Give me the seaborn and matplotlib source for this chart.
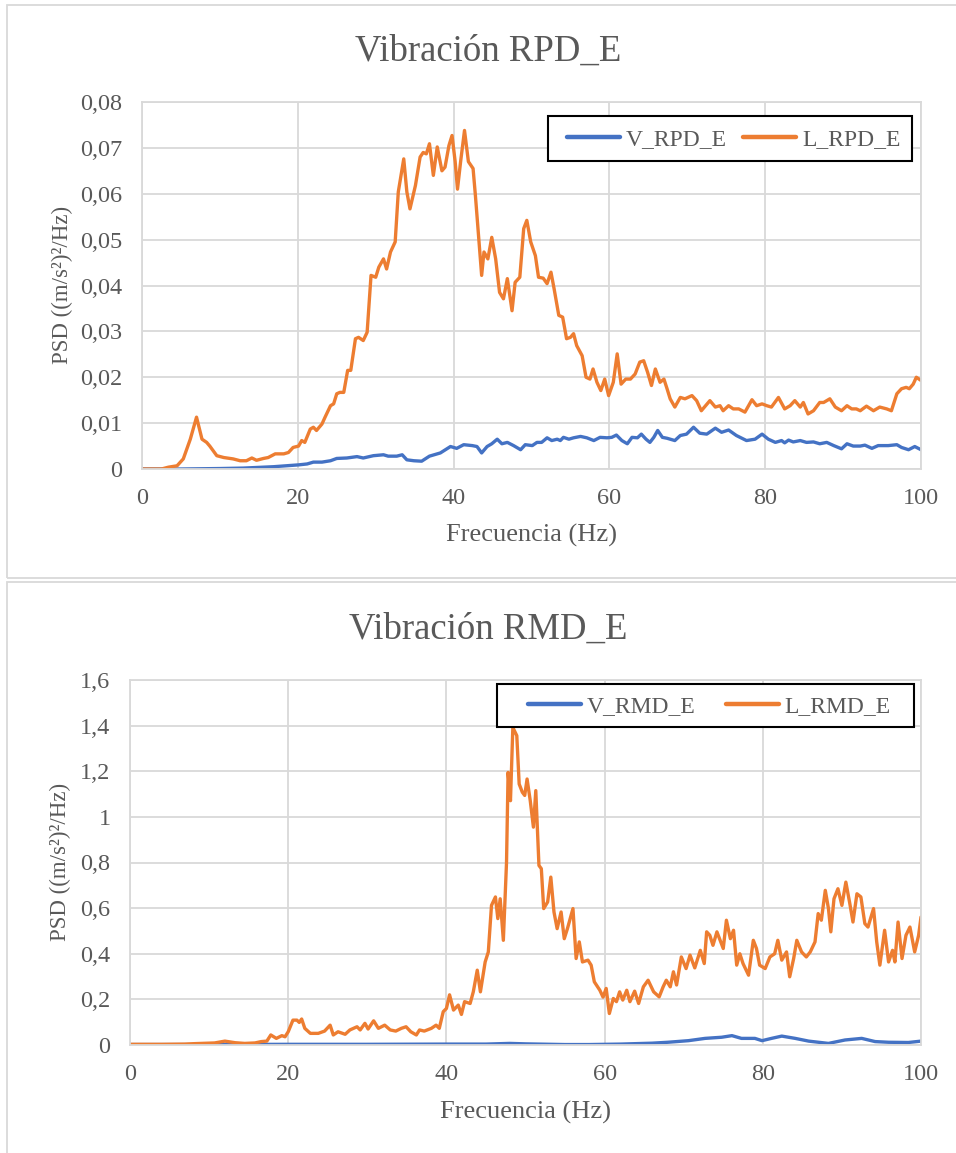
import numpy as np
import pandas as pd
import seaborn as sns
import matplotlib
matplotlib.use("Agg")
import matplotlib.pyplot as plt
from matplotlib.patches import Rectangle
from matplotlib.ticker import FuncFormatter

# ---------------- data ----------------
titles = ["Vibración RPD_E", "Vibración RMD_E"]
xlabel = "Frecuencia (Hz)"
ylabel = "PSD ((m/s\u00b2)\u00b2/Hz)"
x_ticks = [0, 20, 40, 60, 80, 100]
top_yticks = [0, 0.01, 0.02, 0.03, 0.04, 0.05, 0.06, 0.07, 0.08]
bot_yticks = [0, 0.2, 0.4, 0.6, 0.8, 1.0, 1.2, 1.4, 1.6]
top_labels = ["V_RPD_E", "L_RPD_E"]
bot_labels = ["V_RMD_E", "L_RMD_E"]

f_top_L = [0, 2.5, 3.4, 4.5, 5.3, 6.2, 7.0, 7.7, 8.3, 8.7, 9.6, 10.5, 11.7, 12.6, 13.4, 14.1, 14.7,
           15.6, 16.2, 17.1, 18.2, 18.8, 19.4, 20.1, 20.5, 20.9, 21.6, 22.0, 22.4, 23.1, 23.5, 24.2,
           24.6, 25.0, 25.4, 25.9, 26.4, 26.8, 27.4, 27.8, 28.4, 28.9, 29.4, 30.0, 30.4, 31.0, 31.4,
           31.9, 32.5, 32.9, 33.6, 34.0, 34.4, 35.1, 35.7, 36.1, 36.5, 36.9, 37.4, 37.9, 38.5, 38.9,
           39.4, 39.8, 40.2, 40.5, 40.9, 41.4, 41.9, 42.5, 42.8, 43.2, 43.6, 43.9, 44.4, 44.9, 45.4,
           45.9, 46.4, 46.9, 47.5, 47.9, 48.5, 49.0, 49.4, 49.9, 50.5, 50.9, 51.5, 52.0, 52.5, 52.9,
           53.5, 54.0, 54.5, 55.0, 55.4, 55.8, 56.5, 57.0, 57.5, 57.9, 58.4, 58.9, 59.4, 59.9, 60.5,
           61.0, 61.5, 62.1, 62.7, 63.3, 63.9, 64.4, 64.9, 65.4, 65.9, 66.5, 67.0, 67.4, 67.8, 68.4,
           69.1, 69.7, 70.6, 71.2, 71.8, 72.9, 73.6, 74.2, 74.6, 75.3, 75.9, 76.6, 77.4, 78.3, 78.9,
           79.6, 80.2, 80.8, 81.7, 82.5, 83.2, 83.8, 84.5, 84.9, 85.5, 86.2, 87.0, 87.5, 88.3, 89.0,
           89.8, 90.5, 91.1, 91.7, 92.2, 93.0, 93.9, 94.7, 95.6, 96.2, 96.9, 97.5, 98.1, 98.5, 99.0,
           99.4, 100]
v_top_L = [0, 0, 0.0004, 0.0007, 0.0022, 0.0065, 0.0113, 0.0065, 0.0058, 0.005, 0.0029, 0.0025,
           0.0022, 0.0018, 0.0018, 0.0024, 0.0019, 0.0023, 0.0025, 0.0033, 0.0033, 0.0036, 0.0047,
           0.005, 0.0062, 0.0058, 0.0087, 0.0091, 0.0084, 0.0098, 0.0113, 0.0138, 0.0142, 0.0164,
           0.0167, 0.0167, 0.0215, 0.0215, 0.0284, 0.0287, 0.028, 0.0298, 0.0422, 0.0418, 0.044,
           0.0458, 0.0436, 0.0473, 0.0495, 0.0604, 0.0676, 0.0604, 0.0567, 0.0618, 0.068, 0.069,
           0.0687, 0.0709, 0.064, 0.0702, 0.065, 0.0658, 0.0705, 0.0727, 0.067, 0.061, 0.067, 0.0738,
           0.067, 0.0655, 0.0596, 0.0509, 0.0422, 0.0473, 0.0458, 0.0505, 0.0458, 0.0385, 0.0371,
           0.0415, 0.0345, 0.0407, 0.0418, 0.0524, 0.0542, 0.0495, 0.0465, 0.0418, 0.0416, 0.0404,
           0.0429, 0.0393, 0.0335, 0.0331, 0.0284, 0.0287, 0.0295, 0.0269, 0.0247, 0.02, 0.0196,
           0.0218, 0.0189, 0.0171, 0.0196, 0.016, 0.0189, 0.0251, 0.0185, 0.0196, 0.0196, 0.0207,
           0.0233, 0.0236, 0.0211, 0.0182, 0.0218, 0.0189, 0.0196, 0.0175, 0.0153, 0.0135, 0.0156,
           0.0153, 0.016, 0.0149, 0.0127, 0.0149, 0.0135, 0.0138, 0.0127, 0.0138, 0.0131, 0.0131,
           0.0124, 0.0151, 0.0138, 0.0142, 0.0138, 0.0135, 0.0156, 0.0131, 0.0138, 0.0149, 0.0135,
           0.0145, 0.012, 0.0127, 0.0145, 0.0145, 0.0153, 0.0135, 0.0127, 0.0138, 0.0131, 0.0131,
           0.0127, 0.0137, 0.0127, 0.0135, 0.0131, 0.0127, 0.0164, 0.0175, 0.0178, 0.0175, 0.0185,
           0.02, 0.0193]

f_top_V = [0, 5, 10, 13, 16.9, 20.1, 21.2, 22.0, 23.1, 24.2, 25.0, 26.3, 27.6, 28.4, 29.7, 31.0,
           31.6, 32.7, 33.4, 34.0, 34.9, 35.9, 36.9, 38.3, 39.6, 40.4, 41.3, 42.4, 43.0, 43.6, 44.3,
           44.9, 45.6, 46.2, 46.9, 47.7, 48.6, 49.2, 50.1, 50.7, 51.3, 52.0, 52.6, 53.3, 53.7, 54.1,
           54.8, 55.4, 56.3, 57.1, 58.0, 58.8, 59.7, 60.3, 60.9, 61.6, 62.3, 62.9, 63.6, 64.1, 64.7,
           65.2, 65.7, 66.2, 66.8, 67.4, 68.4, 69.1, 69.9, 70.8, 71.6, 72.5, 73.6, 74.4, 75.3, 76.3,
           77.6, 78.7, 79.6, 80.4, 81.3, 82.1, 82.5, 83.0, 83.6, 84.5, 85.3, 86.2, 87.0, 87.9, 88.8,
           89.8, 90.5, 91.3, 92.2, 92.8, 93.7, 94.5, 95.8, 96.9, 97.5, 98.4, 99.2, 100]
v_top_V = [0, 0, 0.0001, 0.0002, 0.0005, 0.0009, 0.0011, 0.0015, 0.0015, 0.0018, 0.0023, 0.0024,
           0.0027, 0.0024, 0.0029, 0.0031, 0.0028, 0.0028, 0.0031, 0.002, 0.0018, 0.0017, 0.0028,
           0.0035, 0.0049, 0.0045, 0.0053, 0.0051, 0.0049, 0.0035, 0.0049, 0.0055, 0.0065, 0.0055,
           0.0058, 0.0051, 0.0042, 0.0053, 0.0051, 0.0058, 0.0058, 0.0068, 0.0062, 0.0065, 0.0062,
           0.0069, 0.0065, 0.0068, 0.0071, 0.0068, 0.0062, 0.0069, 0.0068, 0.0069, 0.0074, 0.0062,
           0.0055, 0.0069, 0.0068, 0.0076, 0.0065, 0.0058, 0.0069, 0.0084, 0.0069, 0.0067, 0.0062,
           0.0073, 0.0076, 0.0091, 0.0078, 0.0076, 0.0089, 0.008, 0.0085, 0.0073, 0.0062, 0.0065,
           0.0076, 0.0065, 0.0058, 0.0062, 0.0057, 0.0063, 0.0059, 0.0062, 0.0058, 0.0059, 0.0055,
           0.0058, 0.0051, 0.0044, 0.0055, 0.005, 0.005, 0.0052, 0.0045, 0.0051, 0.0051, 0.0053,
           0.0047, 0.0042, 0.0049, 0.0042]

f_bot_L = [0, 4, 6.9, 8.2, 10.7, 12.0, 13.3, 14.5, 15.8, 16.6, 17.3, 17.8, 18.5, 19.2, 19.6, 20.0,
           20.6, 21.1, 21.4, 21.7, 22.1, 22.8, 23.8, 24.6, 25.3, 25.7, 26.3, 27.2, 27.8, 28.7, 29.1,
           29.7, 30.1, 30.8, 31.4, 32.2, 32.9, 33.6, 34.3, 34.9, 35.5, 36.2, 36.6, 37.2, 38.1, 38.7,
           39.1, 39.6, 40.0, 40.4, 40.9, 41.5, 41.9, 42.3, 43.0, 43.4, 43.9, 44.3, 44.9, 45.3, 45.7,
           46.2, 46.5, 46.8, 47.2, 47.6, 47.8, 48.1, 48.4, 48.9, 49.2, 49.6, 49.9, 50.2, 50.6, 51.0,
           51.3, 51.7, 52.0, 52.3, 52.8, 53.2, 53.6, 54.0, 54.5, 54.9, 55.3, 56.0, 56.4, 56.8, 57.2,
           57.9, 58.3, 58.7, 59.4, 59.8, 60.2, 60.6, 61.1, 61.5, 61.9, 62.3, 62.8, 63.2, 63.8, 64.3,
           64.9, 65.5, 66.2, 66.9, 67.4, 67.8, 68.3, 68.7, 69.1, 69.7, 70.3, 70.8, 71.4, 72.1, 72.6,
           72.9, 73.3, 73.7, 74.2, 74.6, 75.0, 75.4, 75.9, 76.3, 76.7, 77.1, 77.5, 78.2, 78.8, 79.2,
           79.6, 80.3, 80.9, 81.5, 81.9, 82.4, 83.0, 83.4, 83.9, 84.3, 84.9, 85.5, 86.0, 86.6, 87.0,
           87.4, 87.9, 88.3, 88.6, 89.0, 89.5, 90.0, 90.5, 91.0, 91.4, 91.9, 92.4, 92.9, 93.3, 94.0,
           94.4, 94.8, 95.4, 95.9, 96.4, 96.7, 97.1, 97.6, 98.1, 98.6, 99.2, 99.7, 100]
v_bot_L = [0.003, 0.003, 0.004, 0.006, 0.009, 0.017, 0.01, 0.007, 0.009, 0.015, 0.017, 0.044, 0.029,
           0.041, 0.036, 0.058, 0.109, 0.109, 0.099, 0.114, 0.073, 0.051, 0.051, 0.061, 0.087, 0.044,
           0.058, 0.047, 0.066, 0.08, 0.066, 0.095, 0.07, 0.106, 0.073, 0.087, 0.066, 0.061, 0.073,
           0.08, 0.058, 0.044, 0.066, 0.061, 0.073, 0.087, 0.073, 0.146, 0.16, 0.22, 0.153, 0.175,
           0.134, 0.19, 0.182, 0.233, 0.328, 0.233, 0.364, 0.408, 0.612, 0.649, 0.554, 0.641, 0.459,
           0.80, 1.195, 1.071, 1.392, 1.356, 1.144, 1.108, 1.094, 1.166, 1.071, 0.955, 1.115, 0.787,
           0.773, 0.598, 0.627, 0.736, 0.583, 0.51, 0.583, 0.466, 0.51, 0.598, 0.379, 0.452, 0.364,
           0.372, 0.35, 0.277, 0.24, 0.21, 0.248, 0.138, 0.204, 0.19, 0.233, 0.197, 0.24, 0.19,
           0.236, 0.182, 0.255, 0.284, 0.233, 0.211, 0.255, 0.284, 0.255, 0.321, 0.263, 0.386, 0.335,
           0.394, 0.338, 0.415, 0.357, 0.496, 0.481, 0.437, 0.496, 0.459, 0.423, 0.547, 0.466, 0.503,
           0.35, 0.4, 0.357, 0.306, 0.459, 0.423, 0.35, 0.335, 0.386, 0.4, 0.459, 0.372, 0.408,
           0.299, 0.379, 0.459, 0.408, 0.386, 0.408, 0.452, 0.576, 0.547, 0.678, 0.598, 0.496, 0.641,
           0.685, 0.612, 0.714, 0.62, 0.539, 0.663, 0.649, 0.532, 0.517, 0.598, 0.452, 0.35, 0.503,
           0.364, 0.415, 0.364, 0.539, 0.379, 0.481, 0.517, 0.408, 0.481, 0.561]

f_bot_V = [0, 10, 20, 30, 40, 45, 48, 50, 55, 58, 62, 66, 68, 70.6, 72.7, 74.8, 76.1, 77.3, 79.0,
           79.9, 81.1, 82.4, 84.1, 85.8, 88.3, 90.4, 92.5, 94.2, 95.9, 98.4, 100]
v_bot_V = [0.002, 0.002, 0.003, 0.003, 0.004, 0.004, 0.007, 0.005, 0.002, 0.002, 0.004, 0.008,
           0.012, 0.019, 0.029, 0.034, 0.041, 0.029, 0.029, 0.019, 0.029, 0.039, 0.029, 0.017,
           0.007, 0.022, 0.029, 0.015, 0.012, 0.011, 0.017]

# ---------------- style ----------------
sns.set_theme(style="white")
plt.rcParams["font.family"] = ["Liberation Serif", "DejaVu Serif"]

BLUE = "#4472C4"
ORANGE = "#ED7D31"
GRID = "#d9d9d9"
TXT = "#595959"

W, H = 956, 1153
fig = plt.figure(figsize=(W / 100, H / 100), dpi=100)


def px_axes(l, r, t, b):
    return fig.add_axes([l / W, 1 - b / H, (r - l) / W, (b - t) / H])


def comma_fmt(v, pos):
    s = f"{v:.2f}".rstrip("0").rstrip(".")
    return s.replace(".", ",")


def style_axes(ax, yticks):
    ax.set_xlim(0, 100)
    ax.set_ylim(yticks[0], yticks[-1])
    ax.set_xticks(x_ticks)
    ax.set_yticks(yticks)
    ax.yaxis.set_major_formatter(FuncFormatter(comma_fmt))
    ax.grid(True, color=GRID, lw=1.3)
    ax.set_axisbelow(True)
    for s in ax.spines.values():
        s.set_color(GRID)
        s.set_linewidth(1.3)
    ax.tick_params(axis="both", length=0, labelsize=17.5, labelcolor=TXT)
    ax.tick_params(axis="y", pad=14)
    ax.tick_params(axis="x", pad=14)
    ax.set_xlabel("")
    ax.set_ylabel("")


def draw(ax, fV, vV, fL, vL, labels, yticks, box, px, colsp, axpx):
    ax_l, ax_r, ax_t, ax_b = axpx
    aw, ah = ax_r - ax_l, ax_b - ax_t
    dV = pd.DataFrame({"f": fV, "v": vV})
    dL = pd.DataFrame({"f": fL, "v": vL})
    kw = dict(lw=2.4, solid_joinstyle="round", solid_capstyle="round")
    sns.lineplot(data=dV, x="f", y="v", ax=ax, color=BLUE, label=labels[0], **kw)
    sns.lineplot(data=dL, x="f", y="v", ax=ax, color=ORANGE, label=labels[1], **kw)
    style_axes(ax, yticks)
    # legend frame (pixel box)
    l, t, r, b = box
    ax.add_patch(Rectangle(((l - ax_l) / aw, (ax_b - b) / ah), (r - l) / aw, (b - t) / ah,
                           transform=ax.transAxes, clip_on=False, facecolor="white",
                           edgecolor="black", lw=1.5, zorder=4.9))
    hx, cy = px
    leg = ax.legend(loc="center left", bbox_to_anchor=((hx - ax_l) / aw, (ax_b - cy) / ah),
                    ncol=2, frameon=False, fontsize=17, handlelength=2.25,
                    handletextpad=0.25, columnspacing=colsp, borderpad=0, borderaxespad=0)
    leg.set_zorder(5)
    for t_ in leg.get_texts():
        t_.set_color(TXT)
    for h in leg.get_lines():
        h.set_linewidth(3.2)


# top chart
axpx1 = (142, 921, 102, 469)
ax1 = px_axes(142, 921, 102, 469)
draw(ax1, f_top_V, v_top_V, f_top_L, v_top_L, top_labels, top_yticks,
     (548, 116, 912, 161), (567, 139), 0.68, axpx1)
# bottom chart
axpx2 = (130, 921, 680, 1045)
ax2 = px_axes(130, 921, 680, 1045)
draw(ax2, f_bot_V, v_bot_V, f_bot_L, v_bot_L, bot_labels, bot_yticks,
     (497, 684, 914, 727), (528, 706), 1.27, axpx2)

# titles and axis labels
fig.text(488 / W, 1 - 61 / H, titles[0], ha="center", va="baseline", fontsize=26.5, color=TXT)
fig.text(488 / W, 1 - 639 / H, titles[1], ha="center", va="baseline", fontsize=26.5, color=TXT)
fig.text(531 / W, 1 - 535 / H, xlabel, ha="center", va="center", fontsize=19, color=TXT)
fig.text(525 / W, 1 - 1112 / H, xlabel, ha="center", va="center", fontsize=19, color=TXT)
fig.text(62 / W, 1 - 285 / H, ylabel, ha="center", va="center", rotation=90, fontsize=16.5, color=TXT)
fig.text(60 / W, 1 - 862 / H, ylabel, ha="center", va="center", rotation=90, fontsize=16.5, color=TXT)

# chart area borders
for (x0, y0, x1, y1) in [(7, 5, 962, 578), (7, 582, 962, 1160)]:
    fig.add_artist(Rectangle((x0 / W, 1 - y1 / H), (x1 - x0) / W, (y1 - y0) / H,
                             transform=fig.transFigure, fill=False, ec=GRID, lw=1.3))

fig.savefig("out.png", dpi=100, facecolor="white")
